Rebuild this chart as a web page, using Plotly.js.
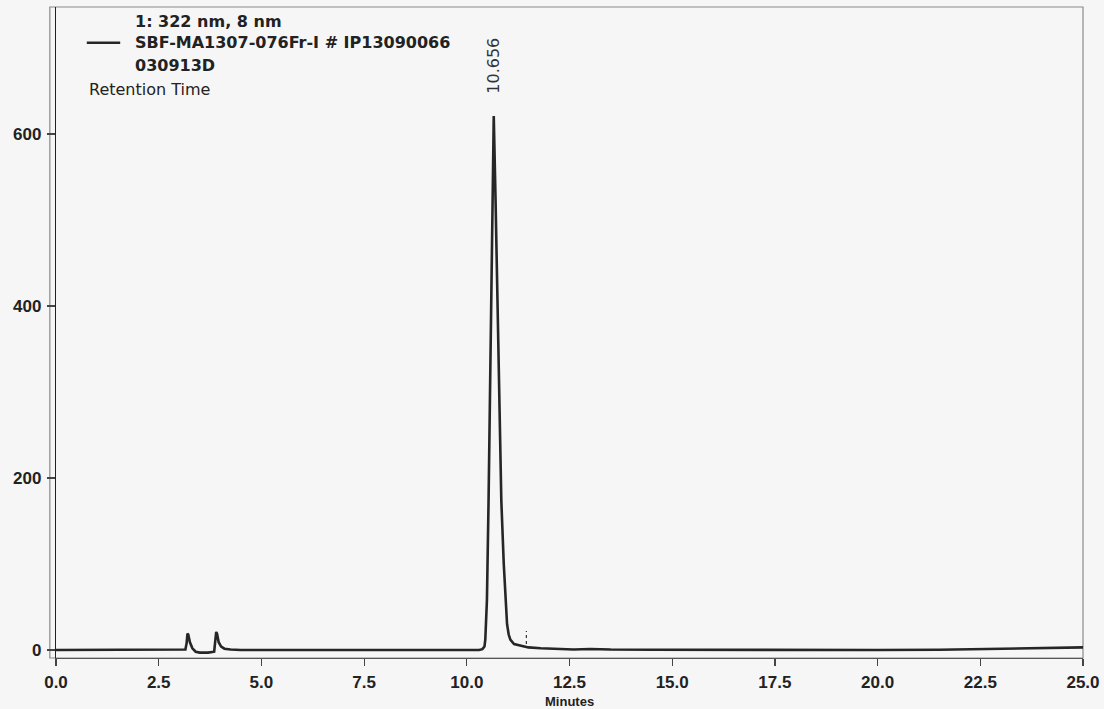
<!DOCTYPE html>
<html>
<head>
<meta charset="utf-8">
<script src="https://cdn.plot.ly/plotly-3.0.1.min.js"></script>
<style>
  html, body { margin: 0; padding: 0; background: #f6f6f6; }
  #chart { width: 1104px; height: 709px; }
</style>
</head>
<body>
<div id="chart"></div>
<script>
// Chromatogram, channel 1: 322 nm, bandwidth 8 nm
const timeMin = [0, 1.0, 2.0, 3.0, 3.15, 3.18, 3.20, 3.22, 3.26, 3.32, 3.40, 3.50, 3.70, 3.85,
  3.88, 3.90, 3.92, 3.96, 4.02, 4.10, 4.25, 4.5, 6.0, 8.0, 10.0, 10.30, 10.38, 10.43, 10.45,
  10.49, 10.53, 10.565, 10.59, 10.62, 10.656, 10.70, 10.75, 10.80, 10.84, 10.90, 10.95, 10.98,
  11.02, 11.06, 11.15, 11.30, 11.50, 11.80, 12.2, 12.6, 13.0, 13.5, 14.5, 16.0, 18.0, 20.0,
  21.5, 22.5, 23.5, 24.5, 25.0];
const signalMAU = [0, 0, 0, 0, 0.5, 8, 19, 18, 9, 2, -2, -3, -3, -2,
  10, 21, 19, 9, 4, 1.5, 0.5, 0, 0, 0, 0, 0, 1, 4, 12,
  58, 174, 291, 407, 523, 621, 523, 407, 291, 174, 100, 58, 30,
  18, 12, 7, 5, 3, 2, 1, 0.6, 1.2, 0.5, 0.3, 0, 0, 0,
  0.3, 1, 2, 2.5, 3];

// Labelled peak and the integration delimiter after it
const peakTimes = [10.656];
const peakHeights = [621];
const delimiterTime = [11.45, 11.45];
const delimiterSignal = [7, 22];

// Axis ticks
const xTicks = [0, 2.5, 5, 7.5, 10, 12.5, 15, 17.5, 20, 22.5, 25];
const yTicks = [0, 200, 400, 600];

const legendLines = ['1: 322 nm, 8 nm', 'SBF-MA1307-076Fr-I # IP13090066', '030913D'];
const legendCaption = 'Retention Time';

const ink = '#222222';
const tickFont = { family: 'Liberation Sans, Arial, sans-serif', size: 17, color: ink, weight: 'bold' };

const traces = [
  {
    x: timeMin, y: signalMAU, type: 'scatter', mode: 'lines',
    line: { color: '#262626', width: 2.6 },
    hoverinfo: 'x+y', showlegend: false
  },
  {
    x: delimiterTime, y: delimiterSignal, type: 'scatter', mode: 'lines',
    line: { color: '#333333', width: 1.2, dash: 'dot' },
    hoverinfo: 'skip', showlegend: false
  }
];

const annotations = peakTimes.map((t, i) => ({
  x: t, y: peakHeights[i], xref: 'x', yref: 'y',
  text: t.toFixed(3), showarrow: false, textangle: -90,
  xanchor: 'center', yanchor: 'bottom', yshift: 20,
  font: { family: 'DejaVu Sans, sans-serif', size: 16, color: '#333333' }
}));

// Legend block in the upper left of the frame
const legendY = [0.977, 0.945, 0.910];
legendLines.forEach((txt, i) => {
  annotations.push({
    x: 0.075, y: legendY[i], xref: 'paper', yref: 'paper',
    text: txt, showarrow: false, xanchor: 'left', yanchor: 'middle',
    font: { family: 'DejaVu Sans, sans-serif', size: 16, color: ink, weight: 'bold' }
  });
});
annotations.push({
  x: 0.030, y: 0.874, xref: 'paper', yref: 'paper',
  text: legendCaption, showarrow: false, xanchor: 'left', yanchor: 'middle',
  font: { family: 'DejaVu Sans, sans-serif', size: 16, color: ink }
});

annotations.push({
  x: 0.5, y: -0.067, xref: 'paper', yref: 'paper',
  text: 'Minutes', showarrow: false, xanchor: 'center', yanchor: 'middle',
  font: { family: 'Liberation Sans, Arial, sans-serif', size: 13, color: ink, weight: 'bold' }
});

const shapes = [
  // outer frame
  { type: 'rect', xref: 'paper', yref: 'paper', x0: -0.006, x1: 1, y0: 0, y1: 1,
    line: { color: '#8a8a8a', width: 1.2 }, layer: 'below' },
  // legend line sample
  { type: 'line', xref: 'paper', yref: 'paper', x0: 0.030, x1: 0.0625, y0: 0.945, y1: 0.945,
    line: { color: '#262626', width: 2.6 } }
];

const layout = {
  width: 1104, height: 709,
  margin: { l: 56, r: 21, t: 7, b: 51 },
  paper_bgcolor: '#f6f6f6', plot_bgcolor: '#f6f6f6',
  showlegend: false,
  xaxis: {
    range: [0, 25], tickvals: xTicks, tickformat: '.1f',
    ticks: 'outside', ticklen: 7, tickcolor: '#444', tickwidth: 1.2,
    showline: true, linecolor: '#555', linewidth: 1.2,
    showgrid: false, zeroline: false, tickfont: tickFont, ticklabelstandoff: 1
  },
  yaxis: {
    range: [-9.3, 747.7], tickvals: yTicks,
    ticks: 'outside', ticklen: 8, tickcolor: '#444', tickwidth: 1.2,
    showline: true, linecolor: '#222', linewidth: 1.2,
    showgrid: false, zeroline: false, tickfont: tickFont, ticklabelstandoff: 2
  },
  annotations: annotations,
  shapes: shapes
};

Plotly.newPlot('chart', traces, layout, { staticPlot: true, displayModeBar: false });
</script>
</body>
</html>
